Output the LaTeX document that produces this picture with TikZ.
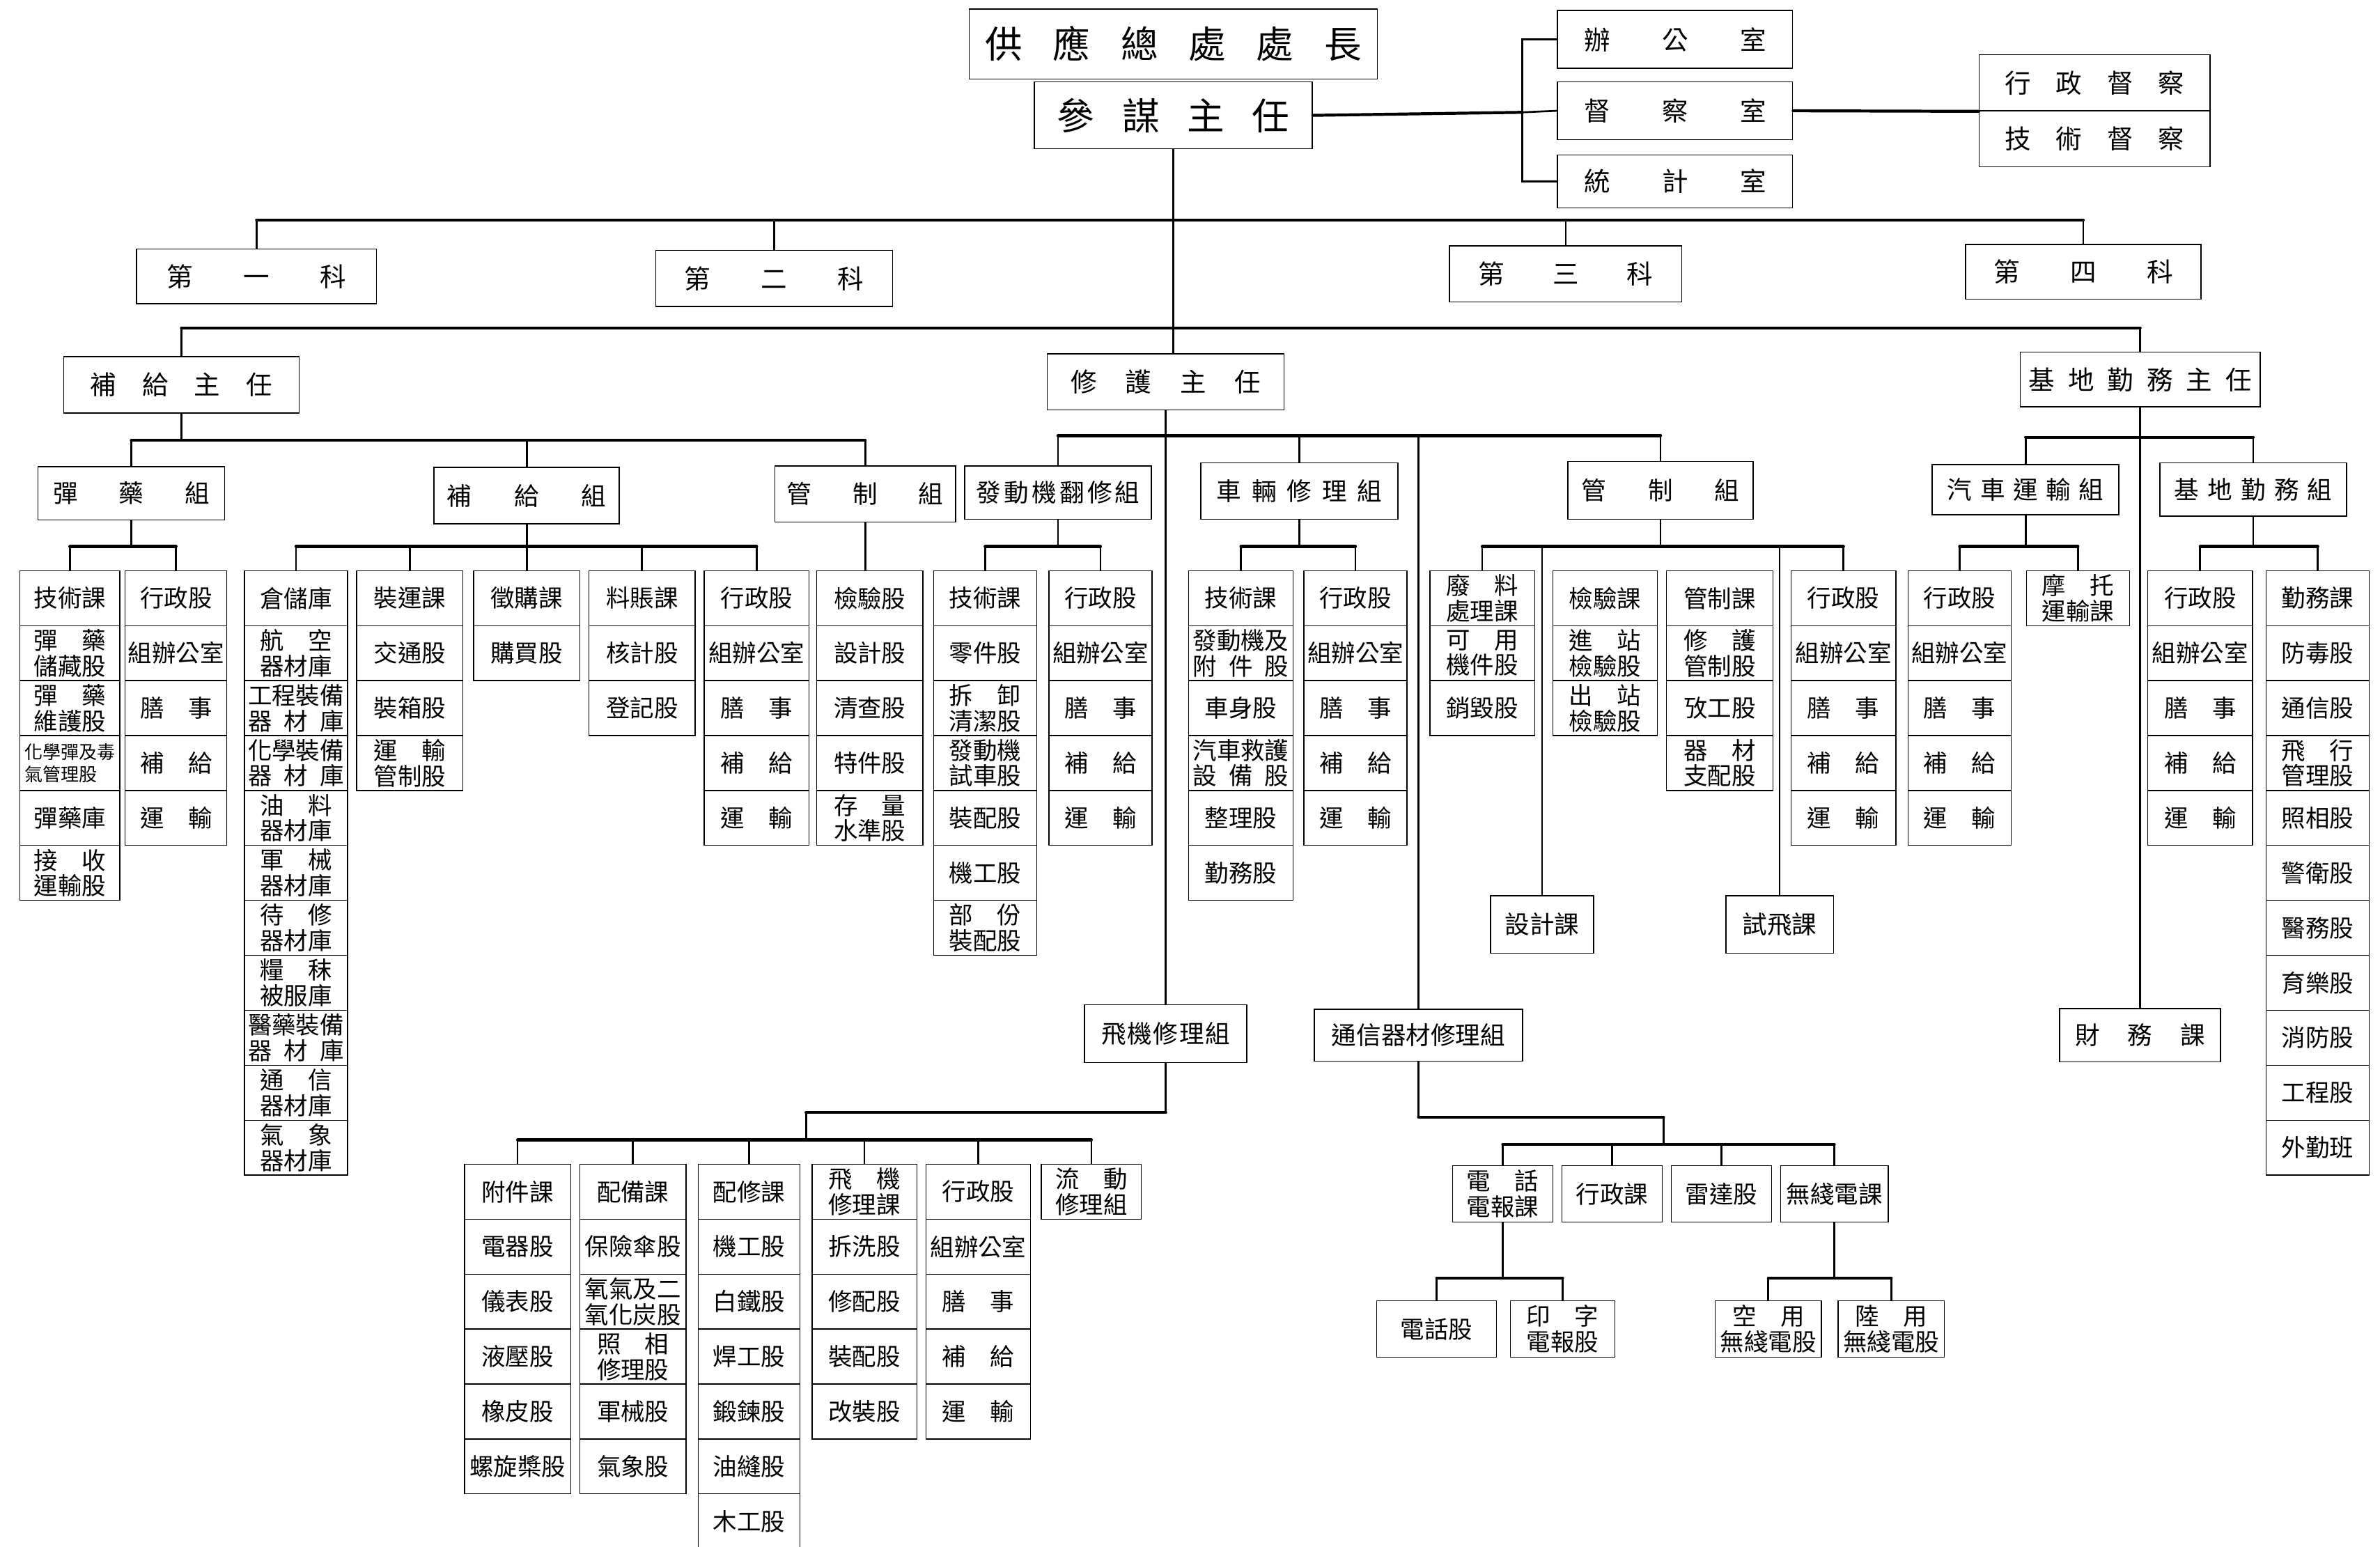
\documentclass[tikz,border=0pt]{standalone}
\usepackage{fontspec}
\setmainfont{Noto Sans CJK TC}
\usepackage{tikz}
\usetikzlibrary{positioning}

% spread the characters of #2 over the width #1
\newcommand{\sprd}[2]{\makebox[#1][s]{\SpFirst#2\relax}}
\def\SpFirst#1{#1\SpLoop}
\def\SpLoop#1{\ifx#1\relax\else\hfill#1\expandafter\SpLoop\fi}

\begin{document}
\begin{tikzpicture}[x=0.2mm, y=-0.2mm,
  cell/.style={draw, line width=0.35pt, inner sep=0pt, minimum height=7.24mm, align=center, font={\fontsize{9}{9.6}\selectfont}},
  grp/.style={draw, line width=0.4pt, inner sep=0pt, align=center, font={\fontsize{9.3}{11}\selectfont}},
  head/.style={grp, font={\fontsize{9.8}{11}\selectfont}},
  boss/.style={grp, font={\fontsize{14}{16}\selectfont}},
  wd/.style={minimum width=#1*0.2mm},
  ht/.style={minimum height=#1*0.2mm},
  bar/.style={line width=1.1pt, line cap=round},
  link/.style={line width=0.7pt}]

  \useasboundingbox (0,0) rectangle (1568,1019);
  \fill[white] (0,0) rectangle (1568,1019);

  % top
  \node[boss, wd=269, ht=46] (chief) at (773,29) {\sprd{49.6mm}{供應總處處長}};
  \node[boss, wd=183, ht=44] (staff) at (773,76) {\sprd{30.6mm}{參謀主任}};
  \node[head, wd=155, ht=38] (off1) at (1103.5,26) {\sprd{24mm}{辦公室}};
  \node[head, wd=155, ht=38] (off2) at (1103.5,73) {\sprd{24mm}{督察室}};
  \node[head, wd=155, ht=35] (off3) at (1103.5,119.5) {\sprd{24mm}{統計室}};
  \node[head, wd=152, ht=37] (insp1) at (1380,54.5) {\sprd{23.6mm}{行政督察}};
  \node[head, wd=152, ht=37] (insp2) at (1380,91.5) {\sprd{23.6mm}{技術督察}};

  \coordinate (brk) at (1003,74);
  \draw[bar] (staff.east) -- (brk);
  \draw[link] (off1.west) -| (brk) |- (off3.west);
  \draw[link] (off2.west) -- (brk);
  \draw[bar] (off2.east) -- (insp1.south west);

  % sections
  \node[head, wd=158, ht=36] (ke1) at (169,182) {\sprd{23.6mm}{第一科}};
  \node[head, wd=156, ht=37] (ke2) at (510,183.5) {\sprd{23.6mm}{第二科}};
  \node[head, wd=153, ht=37] (ke3) at (1031.5,180.5) {\sprd{23mm}{第三科}};
  \node[head, wd=155, ht=36] (ke4) at (1372.5,179) {\sprd{23.6mm}{第四科}};

  % chiefs
  \node[head, wd=155, ht=37] (supply) at (119.5,253.5) {\sprd{24mm}{補給主任}};
  \node[head, wd=156, ht=37] (repair) at (768,251.5) {\sprd{25mm}{修護主任}};
  \node[head, wd=158, ht=36] (base) at (1410,250) {\sprd{29.4mm}{基地勤務主任}};

  \coordinate (kbar) at (773,145);
  \coordinate (mbar) at (773,216);
  \draw[link] (staff.south) -- (staff.south |- repair.north);
  \draw[bar] (ke1.north |- kbar) -- (ke4.north |- kbar);
  \draw[link] (ke1.north) -- (ke1.north |- kbar);
  \draw[link] (ke2.north) -- (ke2.north |- kbar);
  \draw[link] (ke3.north) -- (ke3.north |- kbar);
  \draw[link] (ke4.north) -- (ke4.north |- kbar);
  \draw[bar] (supply.north |- mbar) -- (base.north |- mbar);
  \draw[link] (supply.north) -- (supply.north |- mbar);
  \draw[link] (base.north) -- (base.north |- mbar);

  % groups
  \node[grp, wd=123, ht=35] (ammo) at (86.5,325) {\sprd{20.6mm}{彈藥組}};
  \node[grp, wd=122, ht=37] (sup) at (347,326.5) {\sprd{21mm}{補給組}};
  \node[grp, wd=119, ht=37] (sctl) at (570,325.5) {\sprd{20.6mm}{管制組}};
  \node[grp, wd=123, ht=35] (eng) at (697,324.5) {\sprd{21.6mm}{發動機翻修組}};
  \node[grp, wd=130, ht=37] (veh) at (856,323.5) {\sprd{21.8mm}{車輛修理組}};
  \node[grp, wd=122, ht=38] (mctl) at (1094,323) {\sprd{20.8mm}{管制組}};
  \node[grp, wd=123, ht=33] (motor) at (1334.5,322.5) {\sprd{20.6mm}{汽車運輸組}};
  \node[grp, wd=123, ht=35] (bgrp) at (1484.5,322.5) {\sprd{20.8mm}{基地勤務組}};
  \node[grp, wd=107, ht=38] (plane) at (768,681) {\sprd{17mm}{飛機修理組}};
  \node[grp, wd=137, ht=34] (comm) at (934.5,682) {通信器材修理組};
  \node[grp, wd=106, ht=35] (fin) at (1410,682) {\sprd{17.2mm}{財務課}};
  \node[grp, wd=68, ht=38] (design) at (1016,609) {設計課};
  \node[grp, wd=71, ht=38] (test) at (1172.5,609) {試飛課};

  \coordinate (sbar) at (119.5,290);
  \draw[link] (supply.south) -- (sbar);
  \draw[bar] (ammo.north |- sbar) -- (sctl.north |- sbar);
  \draw[link] (ammo.north) -- (ammo.north |- sbar);
  \draw[link] (sup.north) -- (sup.north |- sbar);
  \draw[link] (sctl.north) -- (sctl.north |- sbar);

  \coordinate (rbar) at (768,287);
  \draw[link] (repair) -- (plane);
  \draw[bar] (eng.north |- rbar) -- (mctl.north |- rbar);
  \draw[link] (eng.north) -- (eng.north |- rbar);
  \draw[link] (veh.north) -- (veh.north |- rbar);
  \draw[link] (mctl.north) -- (mctl.north |- rbar);
  \draw[link] (comm.north) -- (comm.north |- rbar);

  \coordinate (bbar) at (1410,288);
  \draw[link] (base) -- (fin);
  \draw[bar] (motor.north |- bbar) -- (bgrp.north |- bbar);
  \draw[link] (motor.north) -- (motor.north |- bbar);
  \draw[link] (bgrp.north) -- (bgrp.north |- bbar);

  % ammunition group
  \node[cell, wd=66] (am1) at (46,394.1) {技術課};
  \node[cell, wd=66] (am2) at (46,430.3) {\sprd{3em}{彈藥}\\儲藏股};
  \node[cell, wd=66] (am3) at (46,466.5) {\sprd{3em}{彈藥}\\維護股};
  \node[cell, wd=66, align=left, font={\fontsize{6.8}{8.2}\selectfont}] (am4) at (46,502.7) {化學彈及毒\\氣管理股};
  \node[cell, wd=66] (am5) at (46,538.9) {彈藥庫};
  \node[cell, wd=66] (am6) at (46,575.1) {\sprd{3em}{接收}\\運輸股};

  \node[cell, wd=67] (aa1) at (116,394.1) {行政股};
  \node[cell, wd=67] (aa2) at (116,430.3) {組辦公室};
  \node[cell, wd=67] (aa3) at (116,466.5) {\sprd{3em}{膳事}};
  \node[cell, wd=67] (aa4) at (116,502.7) {\sprd{3em}{補給}};
  \node[cell, wd=67] (aa5) at (116,538.9) {\sprd{3em}{運輸}};

  \coordinate (abar) at (86.5,360);
  \draw[link] (ammo.south) -- (abar);
  \draw[bar] (am1.north |- abar) -- (aa1.north |- abar);
  \draw[link] (am1.north) -- (am1.north |- abar);
  \draw[link] (aa1.north) -- (aa1.north |- abar);

  % supply group
  \node[cell, wd=68] (st1) at (195,394.1) {倉儲庫};
  \node[cell, wd=68] (st2) at (195,430.3) {\sprd{3em}{航空}\\器材庫};
  \node[cell, wd=68] (st3) at (195,466.5) {工程裝備\\\sprd{4em}{器材庫}};
  \node[cell, wd=68] (st4) at (195,502.7) {化學裝備\\\sprd{4em}{器材庫}};
  \node[cell, wd=68] (st5) at (195,538.9) {\sprd{3em}{油料}\\器材庫};
  \node[cell, wd=68] (st6) at (195,575.1) {\sprd{3em}{軍械}\\器材庫};
  \node[cell, wd=68] (st7) at (195,611.3) {\sprd{3em}{待修}\\器材庫};
  \node[cell, wd=68] (st8) at (195,647.5) {\sprd{3em}{糧秣}\\被服庫};
  \node[cell, wd=68] (st9) at (195,683.7) {醫藥裝備\\\sprd{4em}{器材庫}};
  \node[cell, wd=68] (st10) at (195,719.9) {\sprd{3em}{通信}\\器材庫};
  \node[cell, wd=68] (st11) at (195,756.1) {\sprd{3em}{氣象}\\器材庫};

  \node[cell, wd=70] (tr1) at (270,394.1) {裝運課};
  \node[cell, wd=70] (tr2) at (270,430.3) {交通股};
  \node[cell, wd=70] (tr3) at (270,466.5) {裝箱股};
  \node[cell, wd=70] (tr4) at (270,502.7) {\sprd{3em}{運輸}\\管制股};

  \node[cell, wd=70] (pc1) at (347,394.1) {徵購課};
  \node[cell, wd=70] (pc2) at (347,430.3) {購買股};

  \node[cell, wd=70] (ac1) at (423,394.1) {料賬課};
  \node[cell, wd=70] (ac2) at (423,430.3) {核計股};
  \node[cell, wd=70] (ac3) at (423,466.5) {登記股};

  \node[cell, wd=69] (sa1) at (498.5,394.1) {行政股};
  \node[cell, wd=69] (sa2) at (498.5,430.3) {組辦公室};
  \node[cell, wd=69] (sa3) at (498.5,466.5) {\sprd{3em}{膳事}};
  \node[cell, wd=69] (sa4) at (498.5,502.7) {\sprd{3em}{補給}};
  \node[cell, wd=69] (sa5) at (498.5,538.9) {\sprd{3em}{運輸}};

  \coordinate (gbar) at (347,360);
  \draw[link] (sup.south) -- (gbar);
  \draw[bar] (st1.north |- gbar) -- (sa1.north |- gbar);
  \draw[link] (st1.north) -- (st1.north |- gbar);
  \draw[link] (tr1.north) -- (tr1.north |- gbar);
  \draw[link] (pc1.north) -- (pc1.north |- gbar);
  \draw[link] (ac1.north) -- (ac1.north |- gbar);
  \draw[link] (sa1.north) -- (sa1.north |- gbar);

  % supply control group
  \node[cell, wd=70] (ck1) at (573,394.1) {檢驗股};
  \node[cell, wd=70] (ck2) at (573,430.3) {設計股};
  \node[cell, wd=70] (ck3) at (573,466.5) {清查股};
  \node[cell, wd=70] (ck4) at (573,502.7) {特件股};
  \node[cell, wd=70] (ck5) at (573,538.9) {\sprd{3em}{存量}\\水準股};

  \draw[link] (sctl.south) -- (sctl.south |- ck1.north);

  % engine overhaul group
  \node[cell, wd=68] (et1) at (649,394.1) {技術課};
  \node[cell, wd=68] (et2) at (649,430.3) {零件股};
  \node[cell, wd=68] (et3) at (649,466.5) {\sprd{3em}{拆卸}\\清潔股};
  \node[cell, wd=68] (et4) at (649,502.7) {發動機\\試車股};
  \node[cell, wd=68] (et5) at (649,538.9) {裝配股};
  \node[cell, wd=68] (et6) at (649,575.1) {機工股};
  \node[cell, wd=68] (et7) at (649,611.3) {\sprd{3em}{部份}\\裝配股};

  \node[cell, wd=68] (ea1) at (725,394.1) {行政股};
  \node[cell, wd=68] (ea2) at (725,430.3) {組辦公室};
  \node[cell, wd=68] (ea3) at (725,466.5) {\sprd{3em}{膳事}};
  \node[cell, wd=68] (ea4) at (725,502.7) {\sprd{3em}{補給}};
  \node[cell, wd=68] (ea5) at (725,538.9) {\sprd{3em}{運輸}};

  \coordinate (ebar) at (697,360);
  \draw[link] (eng.south) -- (ebar);
  \draw[bar] (et1.north |- ebar) -- (ea1.north |- ebar);
  \draw[link] (et1.north) -- (et1.north |- ebar);
  \draw[link] (ea1.north) -- (ea1.north |- ebar);

  % vehicle repair group
  \node[cell, wd=69] (vt1) at (817.5,394.1) {技術課};
  \node[cell, wd=69] (vt2) at (817.5,430.3) {發動機及\\\sprd{4em}{附件股}};
  \node[cell, wd=69] (vt3) at (817.5,466.5) {車身股};
  \node[cell, wd=69] (vt4) at (817.5,502.7) {汽車救護\\\sprd{4em}{設備股}};
  \node[cell, wd=69] (vt5) at (817.5,538.9) {整理股};
  \node[cell, wd=69] (vt6) at (817.5,575.1) {勤務股};

  \node[cell, wd=68] (va1) at (893,394.1) {行政股};
  \node[cell, wd=68] (va2) at (893,430.3) {組辦公室};
  \node[cell, wd=68] (va3) at (893,466.5) {\sprd{3em}{膳事}};
  \node[cell, wd=68] (va4) at (893,502.7) {\sprd{3em}{補給}};
  \node[cell, wd=68] (va5) at (893,538.9) {\sprd{3em}{運輸}};

  \coordinate (vbar) at (856,360);
  \draw[link] (veh.south) -- (vbar);
  \draw[bar] (vt1.north |- vbar) -- (va1.north |- vbar);
  \draw[link] (vt1.north) -- (vt1.north |- vbar);
  \draw[link] (va1.north) -- (va1.north |- vbar);

  % repair control group
  \node[cell, wd=69] (sc1) at (976.5,394.1) {\sprd{3em}{廢料}\\處理課};
  \node[cell, wd=69] (sc2) at (976.5,430.3) {\sprd{3em}{可用}\\機件股};
  \node[cell, wd=69] (sc3) at (976.5,466.5) {銷毀股};

  \node[cell, wd=69] (ins1) at (1057.5,394.1) {檢驗課};
  \node[cell, wd=69] (ins2) at (1057.5,430.3) {\sprd{3em}{進站}\\檢驗股};
  \node[cell, wd=69] (ins3) at (1057.5,466.5) {\sprd{3em}{出站}\\檢驗股};

  \node[cell, wd=70] (pl1) at (1133,394.1) {管制課};
  \node[cell, wd=70] (pl2) at (1133,430.3) {\sprd{3em}{修護}\\管制股};
  \node[cell, wd=70] (pl3) at (1133,466.5) {攷工股};
  \node[cell, wd=70] (pl4) at (1133,502.7) {\sprd{3em}{器材}\\支配股};

  \node[cell, wd=69] (ma1) at (1214.5,394.1) {行政股};
  \node[cell, wd=69] (ma2) at (1214.5,430.3) {組辦公室};
  \node[cell, wd=69] (ma3) at (1214.5,466.5) {\sprd{3em}{膳事}};
  \node[cell, wd=69] (ma4) at (1214.5,502.7) {\sprd{3em}{補給}};
  \node[cell, wd=69] (ma5) at (1214.5,538.9) {\sprd{3em}{運輸}};

  \coordinate (cbar3) at (1094,360);
  \draw[link] (mctl.south) -- (cbar3);
  \draw[bar] (sc1.north |- cbar3) -- (ma1.north |- cbar3);
  \draw[link] (sc1.north) -- (sc1.north |- cbar3);
  \draw[link] (ma1.north) -- (ma1.north |- cbar3);
  \draw[link] (design.north) -- (design.north |- cbar3);
  \draw[link] (test.north) -- (test.north |- cbar3);

  % motor transport group
  \node[cell, wd=68] (ta1) at (1291,394.1) {行政股};
  \node[cell, wd=68] (ta2) at (1291,430.3) {組辦公室};
  \node[cell, wd=68] (ta3) at (1291,466.5) {\sprd{3em}{膳事}};
  \node[cell, wd=68] (ta4) at (1291,502.7) {\sprd{3em}{補給}};
  \node[cell, wd=68] (ta5) at (1291,538.9) {\sprd{3em}{運輸}};
  \node[cell, wd=68] (moto) at (1369,394.1) {\sprd{3em}{摩托}\\運輸課};

  \coordinate (obar) at (1334.5,360);
  \draw[link] (motor.south) -- (obar);
  \draw[bar] (ta1.north |- obar) -- (moto.north |- obar);
  \draw[link] (ta1.north) -- (ta1.north |- obar);
  \draw[link] (moto.north) -- (moto.north |- obar);

  % base service group
  \node[cell, wd=69] (ba1) at (1449.5,394.1) {行政股};
  \node[cell, wd=69] (ba2) at (1449.5,430.3) {組辦公室};
  \node[cell, wd=69] (ba3) at (1449.5,466.5) {\sprd{3em}{膳事}};
  \node[cell, wd=69] (ba4) at (1449.5,502.7) {\sprd{3em}{補給}};
  \node[cell, wd=69] (ba5) at (1449.5,538.9) {\sprd{3em}{運輸}};

  \node[cell, wd=68] (sv1) at (1527,394.1) {勤務課};
  \node[cell, wd=68] (sv2) at (1527,430.3) {防毒股};
  \node[cell, wd=68] (sv3) at (1527,466.5) {通信股};
  \node[cell, wd=68] (sv4) at (1527,502.7) {\sprd{3em}{飛行}\\管理股};
  \node[cell, wd=68] (sv5) at (1527,538.9) {照相股};
  \node[cell, wd=68] (sv6) at (1527,575.1) {警衛股};
  \node[cell, wd=68] (sv7) at (1527,611.3) {醫務股};
  \node[cell, wd=68] (sv8) at (1527,647.5) {育樂股};
  \node[cell, wd=68] (sv9) at (1527,683.7) {消防股};
  \node[cell, wd=68] (sv10) at (1527,719.9) {工程股};
  \node[cell, wd=68] (sv11) at (1527,756.1) {外勤班};

  \coordinate (qbar) at (1484.5,360);
  \draw[link] (bgrp.south) -- (qbar);
  \draw[bar] (ba1.north |- qbar) -- (sv1.north |- qbar);
  \draw[link] (ba1.north) -- (ba1.north |- qbar);
  \draw[link] (sv1.north) -- (sv1.north |- qbar);

  % aircraft repair group
  \node[cell, wd=70] (pt1) at (341,785.1) {附件課};
  \node[cell, wd=70] (pt2) at (341,821.3) {電器股};
  \node[cell, wd=70] (pt3) at (341,857.5) {儀表股};
  \node[cell, wd=70] (pt4) at (341,893.7) {液壓股};
  \node[cell, wd=70] (pt5) at (341,929.9) {橡皮股};
  \node[cell, wd=70] (pt6) at (341,966.1) {螺旋槳股};

  \node[cell, wd=70] (eq1) at (417,785.1) {配備課};
  \node[cell, wd=70] (eq2) at (417,821.3) {保險傘股};
  \node[cell, wd=70] (eq3) at (417,857.5) {氧氣及二\\氧化炭股};
  \node[cell, wd=70] (eq4) at (417,893.7) {\sprd{3em}{照相}\\修理股};
  \node[cell, wd=70] (eq5) at (417,929.9) {軍械股};
  \node[cell, wd=70] (eq6) at (417,966.1) {氣象股};

  \node[cell, wd=67] (rp1) at (493.5,785.1) {配修課};
  \node[cell, wd=67] (rp2) at (493.5,821.3) {機工股};
  \node[cell, wd=67] (rp3) at (493.5,857.5) {白鐵股};
  \node[cell, wd=67] (rp4) at (493.5,893.7) {焊工股};
  \node[cell, wd=67] (rp5) at (493.5,929.9) {鍛鍊股};
  \node[cell, wd=67] (rp6) at (493.5,966.1) {油縫股};
  \node[cell, wd=67] (rp7) at (493.5,1002.3) {木工股};

  \node[cell, wd=69] (fr1) at (569.5,785.1) {\sprd{3em}{飛機}\\修理課};
  \node[cell, wd=69] (fr2) at (569.5,821.3) {拆洗股};
  \node[cell, wd=69] (fr3) at (569.5,857.5) {修配股};
  \node[cell, wd=69] (fr4) at (569.5,893.7) {裝配股};
  \node[cell, wd=69] (fr5) at (569.5,929.9) {改裝股};

  \node[cell, wd=69] (fa1) at (644.5,785.1) {行政股};
  \node[cell, wd=69] (fa2) at (644.5,821.3) {組辦公室};
  \node[cell, wd=69] (fa3) at (644.5,857.5) {\sprd{3em}{膳事}};
  \node[cell, wd=69] (fa4) at (644.5,893.7) {\sprd{3em}{補給}};
  \node[cell, wd=69] (fa5) at (644.5,929.9) {\sprd{3em}{運輸}};

  \node[cell, wd=66] (flow) at (719,785.1) {\sprd{3em}{流動}\\修理組};

  \coordinate (pup) at (531,733);
  \coordinate (pbar) at (531,751);
  \draw[link] (plane.south) -- (plane.south |- pup);
  \draw[bar] (plane.south |- pup) -- (pup);
  \draw[link] (pup) -- (pbar);
  \draw[bar] (pt1.north |- pbar) -- (flow.north |- pbar);
  \draw[link] (pt1.north) -- (pt1.north |- pbar);
  \draw[link] (eq1.north) -- (eq1.north |- pbar);
  \draw[link] (rp1.north) -- (rp1.north |- pbar);
  \draw[link] (fr1.north) -- (fr1.north |- pbar);
  \draw[link] (fa1.north) -- (fa1.north |- pbar);
  \draw[link] (flow.north) -- (flow.north |- pbar);

  % signal equipment repair group
  \node[cell, wd=66, ht=37] (tel) at (990,786.5) {\sprd{3em}{電話}\\電報課};
  \node[cell, wd=66, ht=37] (cadm) at (1062,786.5) {行政課};
  \node[cell, wd=66, ht=37] (radar) at (1134,786.5) {雷達股};
  \node[cell, wd=71, ht=37] (radio) at (1208.5,786.5) {無綫電課};
  \node[cell, wd=79, ht=37] (phone) at (946.5,875.5) {電話股};
  \node[cell, wd=69, ht=37] (prt) at (1029.5,875.5) {\sprd{3em}{印字}\\電報股};
  \node[cell, wd=70, ht=37] (airr) at (1165,875.5) {\sprd{3em}{空用}\\無綫電股};
  \node[cell, wd=70, ht=37] (landr) at (1246,875.5) {\sprd{3em}{陸用}\\無綫電股};

  \coordinate (cup) at (1096,736);
  \coordinate (cbar) at (1096,754);
  \draw[link] (comm.south) -- (comm.south |- cup);
  \draw[bar] (comm.south |- cup) -- (cup);
  \draw[link] (cup) -- (cbar);
  \draw[bar] (tel.north |- cbar) -- (radio.north |- cbar);
  \draw[link] (tel.north) -- (tel.north |- cbar);
  \draw[link] (cadm.north) -- (cadm.north |- cbar);
  \draw[link] (radar.north) -- (radar.north |- cbar);
  \draw[link] (radio.north) -- (radio.north |- cbar);

  \coordinate (tbar) at (990,842);
  \draw[link] (tel.south) -- (tbar);
  \draw[bar] (phone.north |- tbar) -- (prt.north |- tbar);
  \draw[link] (phone.north) -- (phone.north |- tbar);
  \draw[link] (prt.north) -- (prt.north |- tbar);

  \coordinate (wbar) at (1208.5,842);
  \draw[link] (radio.south) -- (wbar);
  \draw[bar] (airr.north |- wbar) -- (landr.north |- wbar);
  \draw[link] (airr.north) -- (airr.north |- wbar);
  \draw[link] (landr.north) -- (landr.north |- wbar);
\end{tikzpicture}
\end{document}
